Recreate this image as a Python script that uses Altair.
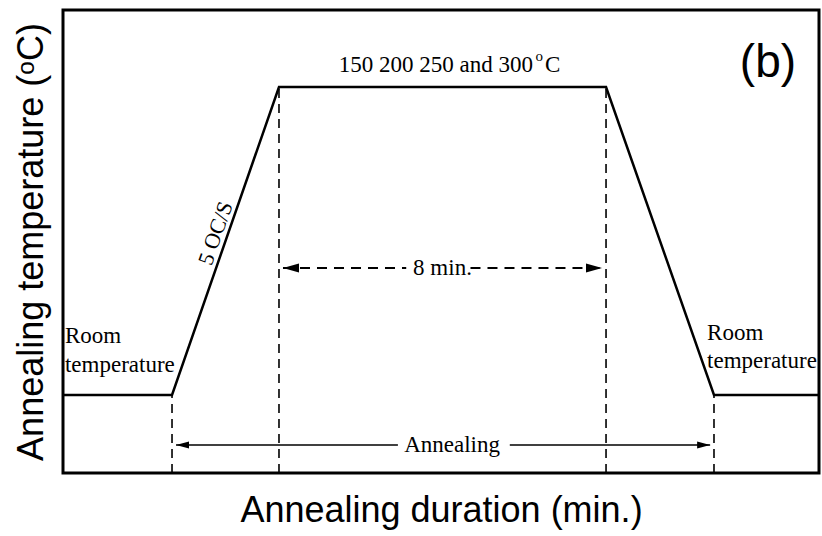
import altair as alt
import pandas as pd

# ---- data (x: annealing duration, arbitrary units 0-100; y: temperature, arbitrary units 0-100)
profile_x = [0, 14.42, 28.57, 71.83, 86.11, 100]
profile_y = [16.85, 16.85, 83.37, 83.37, 16.85, 16.85]

# dashed vertical guides
guide_x = [14.42, 28.57, 71.83, 86.11]
guide_top = [16.85, 83.37, 83.37, 16.85]

# "8 min." dashed arrow (two segments around label)
dash_seg_x1 = [29.1, 53.9]
dash_seg_x2 = [45.4, 71.3]
dash_y = 44.28

# "Annealing" solid arrow (two segments around label)
ann_seg_x1 = [14.95, 59.1]
ann_seg_x2 = [44.3, 85.6]
ann_y = 6.05

# arrow heads
head8_x = [29.1, 71.3]
head8_dir = ["left", "right"]
headA_x = [14.95, 85.6]
headA_dir = ["left", "right"]

FONT_SERIF = "Liberation Serif"
FONT_SANS = "Liberation Sans"

X = alt.X("x:Q", scale=alt.Scale(domain=[0, 100], nice=False, zero=False),
          axis=alt.Axis(title="Annealing duration (min.)", domain=False, ticks=False,
                        labels=False, grid=False, titleFont=FONT_SANS, titleFontSize=36,
                        titleFontWeight="normal", titleColor="black", titlePadding=20))
Y = alt.Y("y:Q", scale=alt.Scale(domain=[0, 100], nice=False, zero=False),
          axis=alt.Axis(title="Annealing temperature (ᵒC)", domain=False, ticks=False,
                        labels=False, grid=False, titleFont=FONT_SANS, titleFontSize=36,
                        titleFontWeight="normal", titleColor="black", titlePadding=13))

prof_df = pd.DataFrame({"x": profile_x, "y": profile_y, "o": range(len(profile_x))})
profile = alt.Chart(prof_df).mark_line(color="black", strokeWidth=2.5).encode(
    x=X, y=Y, order="o:Q")

guide_df = pd.DataFrame({"x": guide_x, "y": [0] * len(guide_x), "y2": guide_top})
guides = alt.Chart(guide_df).mark_rule(color="black", strokeWidth=1.6, strokeDash=[9, 6]).encode(
    x="x:Q", y="y:Q", y2="y2:Q")

dash_df = pd.DataFrame({"x": dash_seg_x1, "x2": dash_seg_x2, "y": [dash_y] * 2})
dash_arrow = alt.Chart(dash_df).mark_rule(color="black", strokeWidth=2.2, strokeDash=[10, 7]).encode(
    x="x:Q", x2="x2:Q", y="y:Q")

ann_df = pd.DataFrame({"x": ann_seg_x1, "x2": ann_seg_x2, "y": [ann_y] * 2})
ann_arrow = alt.Chart(ann_df).mark_rule(color="black", strokeWidth=1.5).encode(
    x="x:Q", x2="x2:Q", y="y:Q")

LEFT = "M0,0L2,-0.55L2,0.55Z"
RIGHT = "M0,0L-2,-0.55L-2,0.55Z"

h8 = pd.DataFrame({"x": head8_x, "y": [dash_y] * 2, "d": head8_dir})
heads8 = alt.Chart(h8).mark_point(filled=True, color="black", opacity=1, size=256).encode(
    x="x:Q", y="y:Q",
    shape=alt.Shape("d:N", scale=alt.Scale(domain=["left", "right"], range=[LEFT, RIGHT]), legend=None))

hA = pd.DataFrame({"x": headA_x, "y": [ann_y] * 2, "d": headA_dir})
headsA = alt.Chart(hA).mark_point(filled=True, color="black", opacity=1, size=169).encode(
    x="x:Q", y="y:Q",
    shape=alt.Shape("d:N", scale=alt.Scale(domain=["left", "right"], range=[LEFT, RIGHT]), legend=None))

def text_layer(texts, xs, ys, size, align="center", baseline="alphabetic", font=FONT_SERIF, **kw):
    df = pd.DataFrame({"t": texts, "x": xs, "y": ys})
    return alt.Chart(df).mark_text(font=font, fontSize=size, align=align, baseline=baseline,
                                   color="black", **kw).encode(x="x:Q", y="y:Q", text="t:N")

top_main = text_layer(["150 200 250 and 300"], [62.17], [86.6], 23, align="right")
top_sup = text_layer(["o"], [62.5], [89.0], 15, align="left")
top_c = text_layer(["C"], [63.76], [86.6], 23, align="left")

room_left = text_layer(["Room", "temperature"], [0.26, 0.26], [28.1, 21.8], 23, align="left")
room_right = text_layer(["Room", "temperature"], [85.19, 85.19], [28.7, 22.7], 23, align="left")

eight = text_layer(["8 min."], [50.2], [44.28], 23, baseline="middle")
anneal = text_layer(["Annealing"], [51.46], [6.05], 23, baseline="middle")

rate = text_layer(["5 OC/S"], [21.68], [50.93], 22, baseline="middle", angle=289.15, dy=-12)

label_b = text_layer(["(b)"], [93.25], [85.53], 46, font=FONT_SANS)

chart = alt.layer(
    guides, profile, dash_arrow, ann_arrow, heads8, headsA,
    top_main, top_sup, top_c, room_left, room_right, eight, anneal, rate, label_b
).properties(
    width=756, height=463,
    autosize=alt.AutoSizeParams(type="none"),
    padding={"left": 63, "top": 10, "right": 3, "bottom": 63},
    background="white",
).configure_view(stroke="black", strokeWidth=3)

chart.save("out.html", embed_options={"renderer": "svg", "actions": False})
